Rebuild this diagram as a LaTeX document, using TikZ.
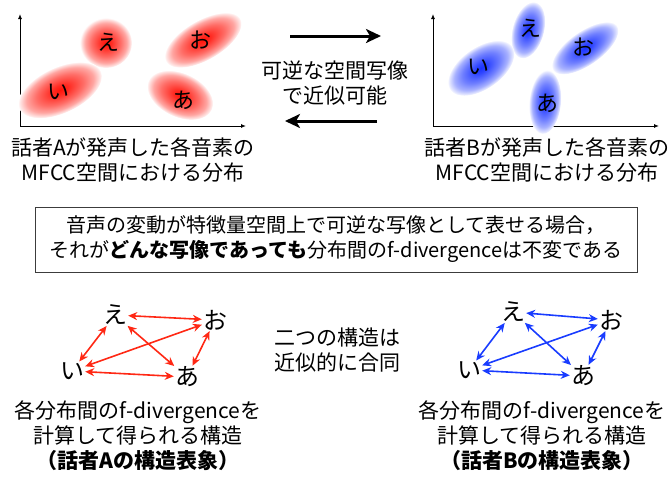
\documentclass[tikz,border=0pt]{standalone}
\usepackage{fontspec}
\setmainfont{Noto Sans CJK JP}
\usetikzlibrary{arrows.meta}
\definecolor{rc}{RGB}{255,20,10}
\definecolor{bc}{RGB}{25,50,255}
\definecolor{rca}{RGB}{255,40,20}
\definecolor{bca}{RGB}{25,60,255}
\definecolor{boxc}{RGB}{60,60,60}
\pgfdeclareradialshading{redblob}{\pgfpoint{0bp}{0bp}}{color(0bp)=(rc); color(5bp)=(rc!90!white); color(14bp)=(rc!62!white); color(20bp)=(rc!38!white); color(24bp)=(rc!10!white); color(25bp)=(white); color(50bp)=(white)}
\pgfdeclareradialshading{blueblob}{\pgfpoint{0bp}{0bp}}{color(0bp)=(bc); color(5bp)=(bc!90!white); color(14bp)=(bc!62!white); color(20bp)=(bc!38!white); color(24bp)=(bc!10!white); color(25bp)=(white); color(50bp)=(white)}
\newcommand\myblob[6]{%
  \begin{scope}[transform canvas={rotate around={#4:(#2,#3)}}]
    \shade[shading=#1] (#2,#3) ellipse ({#5} and {#6});
  \end{scope}}
\begin{document}
\begin{tikzpicture}[x=1pt,y=-1pt,
  lbl/.style={font=\fontsize{22}{22}\selectfont, inner sep=0pt},
  captxt/.style={font=\fontsize{21}{25}\selectfont, align=center, inner sep=0pt},
  axisline/.style={line width=0.9pt, -{Latex[length=5pt,width=4pt]}},
  gl/.style={font=\fontsize{24}{24}\selectfont, inner sep=0pt},
  redarr/.style={rca, line width=1.6pt, {Stealth[length=9pt,width=8pt]}-{Stealth[length=9pt,width=8pt]}, shorten <=1pt, shorten >=1pt},
  bluearr/.style={bca, line width=1.6pt, {Stealth[length=9pt,width=8pt]}-{Stealth[length=9pt,width=8pt]}, shorten <=1pt, shorten >=1pt},
  bigarr/.style={line width=3pt, -{Stealth[length=15pt,width=14pt,inset=4pt]}}
]
\useasboundingbox (0,0) rectangle (672,477);

% left plot
\coordinate (aO) at (20,126);
\coordinate (aY) at (20,14);
\coordinate (aX) at (246,126);
\draw[axisline] (aO) -- (aY);
\draw[axisline] (aO) -- (aX);
\myblob{redblob}{106}{43}{0}{26}{25}
\myblob{redblob}{203}{40}{30}{43}{20}
\myblob{redblob}{60}{90}{25}{45}{23}
\myblob{redblob}{180}{95}{-25}{35}{22}
\node[lbl] (lAe) at (108,42) {え};
\node[lbl] (lAo) at (200,40) {お};
\node[lbl] (lAi) at (58,92) {い};
\node[lbl] (lAa) at (183,100) {あ};

% right plot
\coordinate (bO) at (433,126);
\coordinate (bY) at (433,14);
\coordinate (bX) at (659,126);
\draw[axisline] (bO) -- (bY);
\draw[axisline] (bO) -- (bX);
\myblob{blueblob}{528}{30}{75}{29}{16}
\myblob{blueblob}{585}{48}{35}{39}{17}
\myblob{blueblob}{481}{68}{35}{38}{21}
\myblob{blueblob}{545}{102}{85}{32}{16}
\node[lbl] (lBe) at (530,28) {え};
\node[lbl] (lBo) at (583,47) {お};
\node[lbl] (lBi) at (478,67) {い};
\node[lbl] (lBa) at (547,103) {あ};

% middle arrows and text
\coordinate (t1) at (290,36);
\coordinate (t2) at (381,36);
\coordinate (u1) at (377,121);
\coordinate (u2) at (285,121);
\draw[bigarr] (t1) -- (t2);
\draw[bigarr] (u1) -- (u2);
\node[captxt] (mid) at (335,83) {可逆な空間写像\\で近似可能};

% captions
\node[captxt] (capA) at (133,160) {話者Aが発声した各音素の\\MFCC空間における分布};
\node[captxt] (capB) at (547,160) {話者Bが発声した各音素の\\MFCC空間における分布};

% box
\node[draw=boxc, line width=0.9pt, minimum width=602pt, minimum height=65pt, captxt, font=\fontsize{20}{25}\selectfont] (box) at (336,239.5)
  {音声の変動が特徴量空間上で可逆な写像として表せる場合，\\それが\textbf{どんな写像であっても}分布間のf-divergenceは不変である};

% bottom left graph
\node[gl] (gAe) at (115,315) {え};
\node[gl] (gAo) at (215,320) {お};
\node[gl] (gAi) at (72,371) {い};
\node[gl] (gAa) at (187,377) {あ};
\draw[redarr] (gAe) -- (gAo);
\draw[redarr] (gAe) -- (gAi);
\draw[redarr] (gAe) -- (gAa);
\draw[redarr] (gAi) -- (gAo);
\draw[redarr] (gAi) -- (gAa);
\draw[redarr] (gAo) -- (gAa);

% bottom right graph
\node[gl] (gBe) at (513,312) {え};
\node[gl] (gBo) at (611,320) {お};
\node[gl] (gBi) at (469,370) {い};
\node[gl] (gBa) at (583,376) {あ};
\draw[bluearr] (gBe) -- (gBo);
\draw[bluearr] (gBe) -- (gBi);
\draw[bluearr] (gBe) -- (gBa);
\draw[bluearr] (gBi) -- (gBo);
\draw[bluearr] (gBi) -- (gBa);
\draw[bluearr] (gBo) -- (gBa);

\node[captxt] (mid2) at (337,350) {二つの構造は\\近似的に合同};

% bottom captions
\node[captxt] (botA) at (138,436) {各分布間のf-divergenceを\\計算して得られる構造\\\textbf{（話者Aの構造表象）}};
\node[captxt] (botB) at (542,436) {各分布間のf-divergenceを\\計算して得られる構造\\\textbf{（話者Bの構造表象）}};
\end{tikzpicture}
\end{document}
